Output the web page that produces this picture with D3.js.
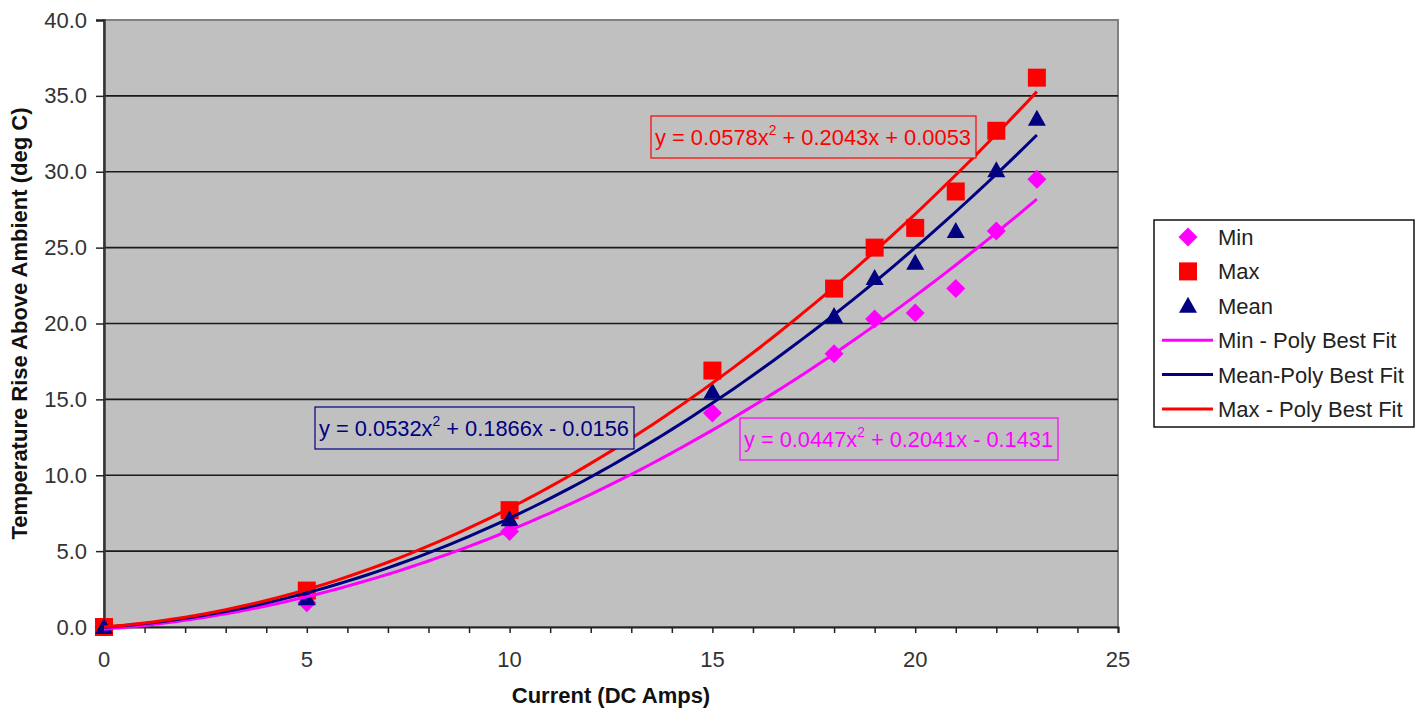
<!DOCTYPE html>
<html>
<head>
<meta charset="utf-8">
<script src="https://cdn.jsdelivr.net/npm/d3@7"></script>
<style>
  body { margin: 0; background: #fff; }
  text { font-family: "Liberation Sans", Arial, sans-serif; }
</style>
</head>
<body>
<div id="chart"></div>
<script>
// data
const current = [0, 5, 10, 15, 18, 19, 20, 21, 22, 23];
const minRise = [0.0, 1.6, 6.3, 14.1, 18.0, 20.3, 20.7, 22.3, 26.1, 29.5];
const maxRise = [0.0, 2.4, 7.7, 16.9, 22.3, 25.0, 26.3, 28.7, 32.7, 36.2];
const meanRise = [0.0, 1.9, 7.1, 15.5, 20.5, 23.0, 24.0, 26.1, 30.1, 33.5];

// trendline coefficients [a, b, c] as printed on the chart
const minFit = [0.0447, 0.2041, -0.1431];
const meanFit = [0.0532, 0.1866, -0.0156];
const maxFit = [0.0578, 0.2043, 0.0053];

const yTicks = [0, 5, 10, 15, 20, 25, 30, 35, 40];
const xTicks = [0, 5, 10, 15, 20, 25];

const W = 1421, H = 711;
const margin = {top: 20, right: 303, bottom: 84, left: 104};
const width = W - margin.left - margin.right,
      height = H - margin.top - margin.bottom;

const svg = d3.select("#chart").append("svg")
    .attr("width", W).attr("height", H);

const g = svg.append("g").attr("transform", `translate(${margin.left},${margin.top})`);

const x = d3.scaleLinear().domain([0, 25]).range([0, width]);
const y = d3.scaleLinear().domain([0, 40]).range([height, 0]);

// plot area
g.append("rect")
  .attr("width", width).attr("height", height)
  .attr("fill", "#c0c0c0")
  .attr("stroke", "#808080").attr("stroke-width", 2);

// gridlines
g.selectAll(".grid")
  .data(yTicks.filter(d => d > 0 && d < 40))
  .enter().append("line")
  .attr("x1", 0).attr("x2", width)
  .attr("y1", d => y(d)).attr("y2", d => y(d))
  .attr("stroke", "#1a1a1a").attr("stroke-width", 1.6);

// y axis
const yAxis = g.append("g")
  .call(d3.axisLeft(y).tickValues(yTicks).tickSize(8).tickPadding(9).tickFormat(d3.format(".1f")));
yAxis.select(".domain").attr("stroke", "#333").attr("stroke-width", 2.5);
yAxis.selectAll(".tick line").attr("stroke", "#222").attr("stroke-width", 1.5);
yAxis.selectAll("text").attr("font-size", 22).attr("fill", "#333")
  .attr("font-family", "Liberation Sans, Arial, sans-serif");

// x axis
const xAxis = g.append("g").attr("transform", `translate(0,${height})`)
  .call(d3.axisBottom(x).ticks(25).tickSize(6).tickFormat(""));
xAxis.select(".domain").attr("stroke", "#222").attr("stroke-width", 2);
xAxis.selectAll(".tick line").attr("stroke", "#222").attr("stroke-width", 1.5);

g.selectAll(".xlabel")
  .data(xTicks)
  .enter().append("text")
  .attr("x", d => x(d)).attr("y", height + 40)
  .attr("text-anchor", "middle")
  .attr("font-size", 22).attr("fill", "#333")
  .text(d => d);

// axis titles
svg.append("text")
  .attr("transform", `translate(27, ${margin.top + height / 2}) rotate(-90)`)
  .attr("text-anchor", "middle")
  .attr("font-size", 22).attr("font-weight", "bold").attr("fill", "#111")
  .text("Temperature Rise Above Ambient (deg C)");

svg.append("text")
  .attr("x", margin.left + 507).attr("y", 703)
  .attr("text-anchor", "middle")
  .attr("font-size", 22).attr("font-weight", "bold").attr("fill", "#111")
  .text("Current (DC Amps)");

// markers
const diamond = d3.symbol().type(d3.symbolSquare).size(180);
g.selectAll(".minpt")
  .data(current.map((c, i) => [c, minRise[i]]))
  .enter().append("path")
  .attr("d", diamond)
  .attr("transform", d => `translate(${x(d[0])},${y(d[1])}) rotate(45)`)
  .attr("fill", "#ff00ff");

g.selectAll(".maxpt")
  .data(current.map((c, i) => [c, maxRise[i]]))
  .enter().append("rect")
  .attr("x", d => x(d[0]) - 9).attr("y", d => y(d[1]) - 9)
  .attr("width", 18).attr("height", 18)
  .attr("fill", "#ff0000");

g.selectAll(".meanpt")
  .data(current.map((c, i) => [c, meanRise[i]]))
  .enter().append("path")
  .attr("d", d => {
    const cx = x(d[0]), cy = y(d[1]);
    return `M${cx},${cy - 9}L${cx + 9},${cy + 7}L${cx - 9},${cy + 7}Z`;
  })
  .attr("fill", "#000080");

// trendlines
const fitX = d3.range(0, 23.001, 0.25);
const poly = c => v => c[0] * v * v + c[1] * v + c[2];
const line = d3.line().x(d => x(d[0])).y(d => y(d[1]));

[[minFit, "#ff00ff"], [meanFit, "#000080"], [maxFit, "#ff0000"]].forEach(([c, col]) => {
  const f = poly(c);
  g.append("path")
    .datum(fitX.map(v => [v, f(v)]))
    .attr("fill", "none")
    .attr("stroke", col)
    .attr("stroke-width", 3)
    .attr("d", line);
});

// equation labels
const eqs = [
  {c: maxFit, col: "#ff0000", x: 651, y: 116, w: 325},
  {c: meanFit, col: "#000080", x: 315, y: 407, w: 319},
  {c: minFit, col: "#ff00ff", x: 740, y: 418, w: 318}
];
const fmt = v => (v < 0 ? " - " : " + ") + Math.abs(v).toFixed(4);
eqs.forEach(e => {
  svg.append("rect")
    .attr("x", e.x).attr("y", e.y).attr("width", e.w).attr("height", 42)
    .attr("fill", "#c0c0c0").attr("stroke", e.col).attr("stroke-width", 1.2);
  const t = svg.append("text")
    .attr("x", e.x + 4).attr("y", e.y + 29)
    .attr("font-size", 22).attr("fill", e.col)
    .attr("textLength", e.w - 9).attr("lengthAdjust", "spacingAndGlyphs");
  t.append("tspan").text(`y = ${e.c[0].toFixed(4)}x`);
  t.append("tspan").attr("dy", -10).attr("font-size", 14).text("2");
  t.append("tspan").attr("dy", 10).text(`${fmt(e.c[1])}x${fmt(e.c[2])}`);
});

// legend
const legendNames = ["Min", "Max", "Mean", "Min - Poly Best Fit", "Mean-Poly Best Fit", "Max - Poly Best Fit"];
const legendColors = ["#ff00ff", "#ff0000", "#000080", "#ff00ff", "#000080", "#ff0000"];
const lg = svg.append("g");
lg.append("rect")
  .attr("x", 1154).attr("y", 220).attr("width", 260).attr("height", 207)
  .attr("fill", "#fff").attr("stroke", "#111").attr("stroke-width", 1.5);

legendNames.forEach((name, i) => {
  const cy = 237 + i * 34.4;
  const col = legendColors[i];
  if (i === 0) {
    lg.append("path").attr("d", diamond)
      .attr("transform", `translate(1188,${cy}) rotate(45)`).attr("fill", col);
  } else if (i === 1) {
    lg.append("rect").attr("x", 1179).attr("y", cy - 9).attr("width", 18).attr("height", 18).attr("fill", col);
  } else if (i === 2) {
    lg.append("path").attr("d", `M1188,${cy - 9}L1197,${cy + 7}L1179,${cy + 7}Z`).attr("fill", col);
  } else {
    lg.append("line").attr("x1", 1162).attr("x2", 1213).attr("y1", cy).attr("y2", cy)
      .attr("stroke", col).attr("stroke-width", 3);
  }
  lg.append("text").attr("x", 1218).attr("y", cy + 8)
    .attr("font-size", 22).attr("fill", "#222").text(name);
});
</script>
</body>
</html>
